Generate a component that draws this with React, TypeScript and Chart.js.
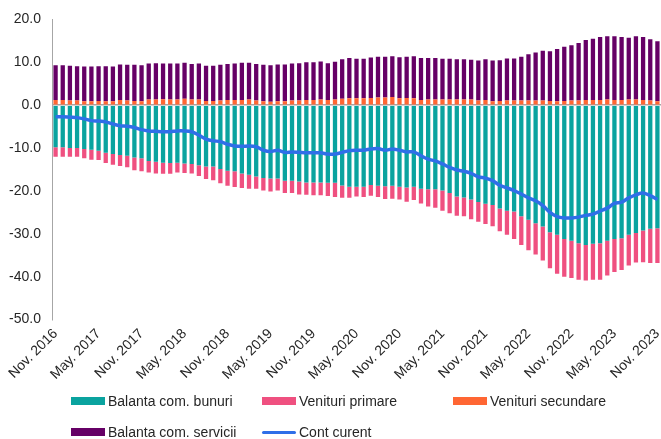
import { useEffect, useRef } from "react";
import { Chart, registerables } from "chart.js";

Chart.register(...registerables);

const MONTHS = ["Jan.", "Feb.", "Mar.", "Apr.", "May.", "Jun.", "Jul.", "Aug.", "Sep.", "Oct.", "Nov.", "Dec."];
const START_YEAR = 2016;
const START_MONTH = 10; // Nov
const N_MONTHS = 85;

const categories: string[] = [];
for (let i = 0; i < N_MONTHS; i++) {
  const m = (START_MONTH + i) % 12;
  const y = START_YEAR + Math.floor((START_MONTH + i) / 12);
  categories.push(`${MONTHS[m]} ${y}`);
}

const yTicks = [-50, -40, -30, -20, -10, 0, 10, 20];

const goods = [
  -9.8, -9.8, -10.0, -10.0, -10.2, -10.4, -10.6, -11.1, -11.4, -11.6, -11.8, -12.2, -12.4, -13.0, -13.2, -13.4, -13.5, -13.4, -13.6, -13.7, -14.0,
  -14.3, -14.3, -14.9, -15.3, -15.4, -15.9, -16.2, -16.6, -17.0, -17.1, -17.1, -17.6, -17.6, -17.8, -18.0, -18.0, -18.0, -18.1, -18.1, -18.7, -19.0,
  -19.0, -19.0, -18.6, -18.8, -18.9, -18.8, -19.0, -19.2, -19.0, -19.5, -19.6, -19.6, -19.9, -20.5, -21.3, -21.5, -22.0, -22.6, -23.0, -23.3, -24.1,
  -24.6, -24.8, -25.9, -26.7, -27.5, -28.3, -29.6, -30.2, -31.2, -31.6, -32.2, -32.6, -32.3, -32.2, -31.6, -31.2, -31.0, -30.2, -29.8, -29.2, -28.8, -28.7,
];

const primaryIncome = [
  -2.2, -2.2, -2.0, -2.0, -2.2, -2.3, -2.2, -2.4, -2.5, -2.6, -2.7, -3.0, -3.0, -2.7, -2.7, -2.6, -2.5, -2.3, -2.2, -2.2, -2.5,
  -2.9, -3.2, -3.3, -3.5, -3.7, -3.4, -3.3, -2.9, -2.9, -3.0, -2.8, -2.9, -2.9, -3.0, -2.9, -3.0, -3.0, -3.1, -3.3, -2.9, -2.6,
  -2.3, -2.4, -2.5, -2.6, -3.0, -3.0, -3.0, -3.3, -3.1, -3.4, -4.0, -4.3, -4.7, -4.7, -4.5, -4.4, -4.6, -4.6, -4.7, -4.9, -5.3,
  -5.6, -6.4, -6.7, -7.1, -7.3, -7.9, -8.4, -9.1, -8.8, -8.7, -8.5, -8.3, -8.4, -8.5, -8.1, -7.7, -7.4, -7.2, -6.9, -7.4, -8.0, -8.1,
];

const secondaryIncome = [
  1.2, 1.2, 1.1, 1.1, 0.9, 0.9, 1.0, 0.9, 0.9, 1.2, 1.1, 1.0, 0.9, 1.3, 1.3, 1.4, 1.3, 1.3, 1.5, 1.3, 1.3,
  1.0, 1.0, 1.1, 1.2, 1.2, 1.2, 1.3, 1.1, 0.9, 0.8, 0.9, 0.9, 1.1, 1.1, 1.2, 1.2, 1.3, 1.2, 1.3, 1.5, 1.6,
  1.6, 1.6, 1.7, 1.8, 1.8, 1.9, 1.6, 1.7, 1.6, 1.2, 1.3, 1.3, 1.3, 1.3, 1.3, 1.3, 1.3, 1.1, 1.2, 0.9, 1.0,
  1.1, 1.1, 1.1, 1.1, 1.1, 1.1, 1.0, 0.9, 1.0, 1.1, 1.1, 1.2, 1.2, 1.2, 1.3, 1.2, 1.2, 1.3, 1.3, 1.2, 1.1, 0.9,
];

const services = [
  8.1, 8.1, 8.1, 8.0, 8.1, 8.1, 8.1, 8.2, 8.1, 8.3, 8.3, 8.4, 8.4, 8.4, 8.5, 8.3, 8.4, 8.4, 8.4, 8.3, 8.4,
  8.2, 8.2, 8.3, 8.4, 8.5, 8.7, 8.6, 8.5, 8.5, 8.5, 8.6, 8.6, 8.6, 8.7, 8.8, 8.8, 8.9, 8.6, 8.8, 9.2, 9.4,
  9.2, 9.2, 9.4, 9.5, 9.5, 9.5, 9.6, 9.6, 9.8, 9.8, 9.7, 9.7, 9.5, 9.5, 9.4, 9.4, 9.3, 9.3, 9.5, 9.5, 9.5,
  9.8, 9.8, 10.2, 10.8, 11.2, 11.6, 11.6, 12.2, 12.6, 12.9, 13.4, 14.0, 14.3, 14.7, 14.8, 14.9, 14.7, 14.4, 14.8, 14.7, 14.3, 14.0,
];

const currentAccount = [
  -2.7, -2.7, -2.8, -2.9, -3.2, -3.6, -3.7, -3.9, -4.4, -4.8, -4.9, -5.2, -5.7, -6.0, -6.1, -6.2, -6.2, -6.0, -6.0, -6.2, -7.0,
  -7.9, -8.3, -8.5, -9.1, -9.5, -9.6, -9.5, -9.7, -10.5, -10.8, -10.5, -11.0, -10.9, -11.0, -11.1, -11.1, -11.1, -11.4, -11.4, -11.0, -10.6,
  -10.5, -10.5, -10.2, -10.1, -10.5, -10.2, -10.5, -10.9, -10.9, -11.8, -12.6, -13.0, -13.7, -14.5, -15.1, -15.4, -15.9, -16.7, -17.0, -17.6, -18.7,
  -19.3, -19.9, -20.7, -21.6, -22.3, -23.4, -25.0, -26.0, -26.3, -26.3, -26.1, -25.7, -25.4, -24.7, -24.0, -22.9, -22.6, -21.6, -20.9, -20.5, -21.1, -22.0,
];

const COLORS = {
  goods: "#0aa39f",
  primary: "#ef5080",
  secondary: "#ff6633",
  services: "#660066",
  current: "#2f6fe8",
};

const FONT = "'Liberation Sans', Arial, sans-serif";

type LegendItem = { label: string; color: string; line?: boolean; x: number; y: number };
const legendItems: LegendItem[] = [
  { label: "Balanta com. bunuri", color: COLORS.goods, x: 71, y: 401 },
  { label: "Venituri primare", color: COLORS.primary, x: 262, y: 401 },
  { label: "Venituri secundare", color: COLORS.secondary, x: 453, y: 401 },
  { label: "Balanta com. servicii", color: COLORS.services, x: 71, y: 432 },
  { label: "Cont curent", color: COLORS.current, line: true, x: 262, y: 432 },
];

export default function App() {
  const ref = useRef<HTMLCanvasElement>(null);

  useEffect(() => {
    if (!ref.current) return;
    const chart = new Chart(ref.current, {
      type: "bar",
      data: {
        labels: categories,
        datasets: [
          { type: "bar", label: "Balanta com. bunuri", data: goods, backgroundColor: COLORS.goods, stack: "s", order: 1, barPercentage: 0.6, categoryPercentage: 1.0 },
          { type: "bar", label: "Venituri primare", data: primaryIncome, backgroundColor: COLORS.primary, stack: "s", order: 1, barPercentage: 0.6, categoryPercentage: 1.0 },
          { type: "bar", label: "Venituri secundare", data: secondaryIncome, backgroundColor: COLORS.secondary, stack: "s", order: 1, barPercentage: 0.6, categoryPercentage: 1.0 },
          { type: "bar", label: "Balanta com. servicii", data: services, backgroundColor: COLORS.services, stack: "s", order: 1, barPercentage: 0.6, categoryPercentage: 1.0 },
          {
            type: "line", label: "Cont curent", data: currentAccount, borderColor: COLORS.current, backgroundColor: COLORS.current,
            borderWidth: 3.5, pointRadius: 0, tension: 0.3, stack: "line", order: 0, fill: false,
          },
        ],
      } as any,
      options: {
        responsive: false,
        maintainAspectRatio: false,
        animation: false,
        layout: { padding: { top: 9, bottom: 50, left: 0, right: 0 } },
        plugins: { legend: { display: false }, tooltip: { enabled: false }, title: { display: false } },
        scales: {
          x: {
            stacked: true,
            grid: { display: false, drawTicks: false },
            border: { display: false },
            ticks: {
              autoSkip: false,
              maxRotation: 45,
              minRotation: 45,
              padding: 6,
              color: "#262626",
              font: { family: FONT, size: 14 },
              callback: (_v: any, idx: number) => (idx % 6 === 0 ? categories[idx] : ""),
            },
            afterFit: (s: any) => { s.paddingRight = 0; },
          },
          y: {
            stacked: true,
            min: -50,
            max: 20,
            afterBuildTicks: (s: any) => { s.ticks = yTicks.map((v) => ({ value: v })); },
            ticks: {
              padding: 11,
              color: "#262626",
              font: { family: FONT, size: 14 },
              callback: (v: any) => Number(v).toFixed(1),
            },
            grid: {
              drawTicks: false,
              color: (ctx: any) => (ctx.tick && ctx.tick.value === 0 ? "#a6a6a6" : "rgba(0,0,0,0)"),
              lineWidth: 1.5,
            },
            border: { display: true, color: "#a6a6a6", width: 1 },
            afterFit: (s: any) => { s.width = 52; },
          },
        },
      } as any,
    });
    return () => chart.destroy();
  }, []);

  return (
    <div style={{ position: "fixed", left: 0, top: 0, width: 661, height: 439, background: "#fff", fontFamily: FONT }}>
      <canvas ref={ref} width={661} height={439} style={{ display: "block", width: 661, height: 439 }} />
      {legendItems.map((it) => (
        <div key={it.label} style={{ position: "absolute", left: it.x, top: it.y - 9, height: 18, display: "flex", alignItems: "center", whiteSpace: "nowrap" }}>
          <span
            style={{
              display: "inline-block",
              width: 34,
              height: it.line ? 3 : 8,
              borderRadius: it.line ? 2 : 0,
              background: it.color,
              marginRight: 3,
            }}
          />
          <span style={{ fontSize: 14, color: "#262626", lineHeight: "18px" }}>{it.label}</span>
        </div>
      ))}
    </div>
  );
}
